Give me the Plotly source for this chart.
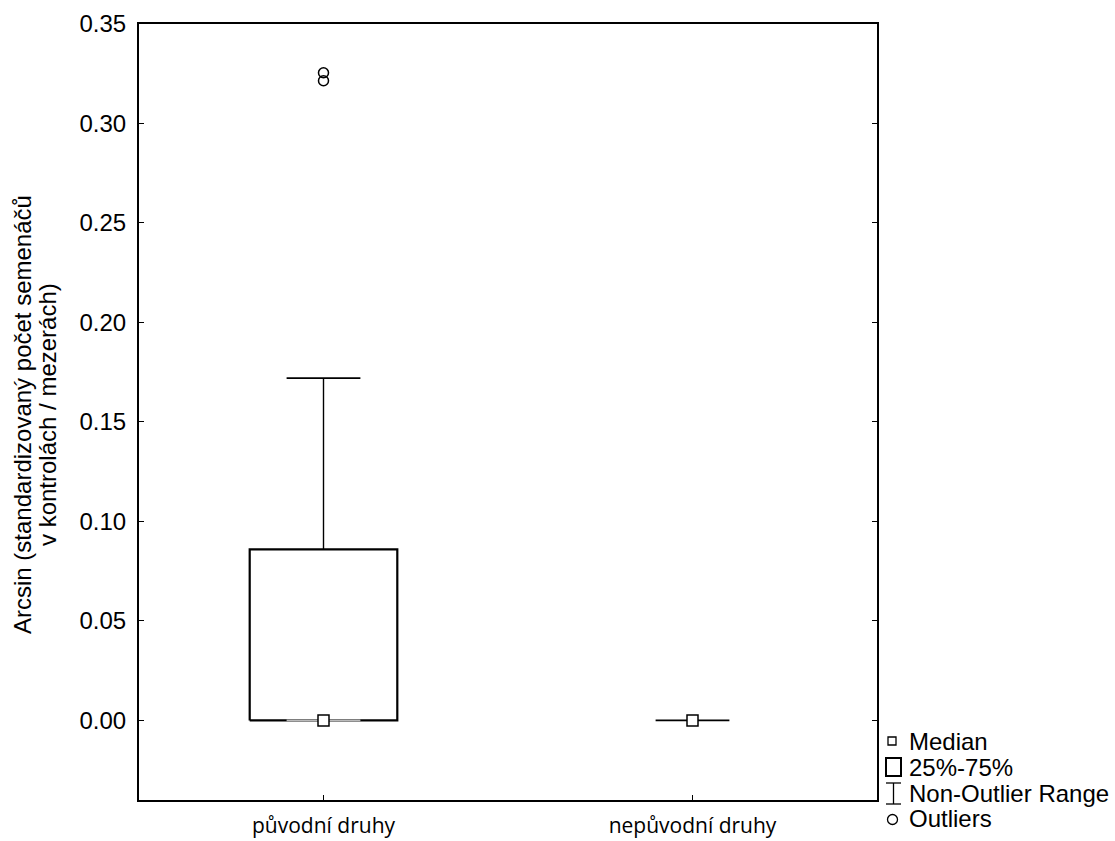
import plotly.graph_objects as go

# Summary statistics per group
categories = ["původní druhy", "nepůvodní druhy"]
medians = [0.0, 0.0]
q1 = [0.0, 0.0]
q3 = [0.086, 0.0]
whisker_low = [0.0, 0.0]
whisker_high = [0.172, 0.0]
outliers = [[0.3255, 0.3215], []]

y_ticks = [0.00, 0.05, 0.10, 0.15, 0.20, 0.25, 0.30, 0.35]

BOX_HALF = 0.2
CAP_HALF = 0.1
FONT = "Liberation Sans, Arial, sans-serif"

# canvas geometry (pixels)
W, H = 1115, 841
L, R, T, B = 139, 238, 24, 41
PW, PH = W - L - R, H - T - B

fig = go.Figure()

for i, cat in enumerate(categories):
    # box (25%-75%)
    if q3[i] > q1[i]:
        fig.add_trace(go.Scatter(
            x=[i - BOX_HALF, i + BOX_HALF, i + BOX_HALF, i - BOX_HALF, i - BOX_HALF],
            y=[q1[i], q1[i], q3[i], q3[i], q1[i]],
            mode="lines", line=dict(color="black", width=2.2),
            hoverinfo="skip", showlegend=False))
    # upper whisker
    if whisker_high[i] > q3[i]:
        fig.add_trace(go.Scatter(
            x=[i, i], y=[q3[i], whisker_high[i]],
            mode="lines", line=dict(color="black", width=1.4),
            hoverinfo="skip", showlegend=False))
    # lower whisker
    if whisker_low[i] < q1[i]:
        fig.add_trace(go.Scatter(
            x=[i, i], y=[whisker_low[i], q1[i]],
            mode="lines", line=dict(color="black", width=1.4),
            hoverinfo="skip", showlegend=False))
    # whisker caps
    caps = [whisker_high[i]] if whisker_high[i] == whisker_low[i] else [whisker_high[i], whisker_low[i]]
    for c in caps:
        col = "black" if (c != q1[i] or q3[i] == q1[i]) else "#bbbbbb"
        fig.add_trace(go.Scatter(
            x=[i - CAP_HALF, i + CAP_HALF], y=[c, c],
            mode="lines", line=dict(color=col, width=1.6),
            hoverinfo="skip", showlegend=False))
    # median
    fig.add_trace(go.Scatter(
        x=[i], y=[medians[i]], mode="markers",
        marker=dict(symbol="square", size=11, color="white",
                    line=dict(color="black", width=1.5)),
        hoverinfo="skip", showlegend=False))
    # outliers
    if outliers[i]:
        fig.add_trace(go.Scatter(
            x=[i] * len(outliers[i]), y=outliers[i], mode="markers",
            marker=dict(symbol="circle-open", size=10, color="black",
                        line=dict(color="black", width=1.5)),
            hoverinfo="skip", showlegend=False))


def px(x, y):
    """Convert canvas pixels to paper coordinates."""
    return (x - L) / PW, 1 - (y - T) / PH


shapes = []
annotations = []

# legend keys
legend_rows = [("Median", 741), ("25%-75%", 767), ("Non-Outlier Range", 793), ("Outliers", 819)]
for text, yc in legend_rows:
    tx, ty = px(907, yc)
    annotations.append(dict(text=text, x=tx, y=ty, xref="paper", yref="paper",
                            xanchor="left", yanchor="middle", showarrow=False,
                            font=dict(family=FONT, size=24, color="black")))

def rect(x0, y0, x1, y1, w):
    a = px(x0, y0); b = px(x1, y1)
    shapes.append(dict(type="rect", xref="paper", yref="paper",
                       x0=a[0], y0=a[1], x1=b[0], y1=b[1],
                       line=dict(color="black", width=w), fillcolor="white"))

def seg(x0, y0, x1, y1, w):
    a = px(x0, y0); b = px(x1, y1)
    shapes.append(dict(type="line", xref="paper", yref="paper",
                       x0=a[0], y0=a[1], x1=b[0], y1=b[1],
                       line=dict(color="black", width=w)))

rect(888, 737, 896, 745, 1.3)
rect(886, 758, 901, 776, 2)
seg(886, 783, 901, 783, 1.3)
seg(893.5, 783, 893.5, 804, 1.3)
seg(886, 804, 901, 804, 1.3)
a = px(887.5, 814.5); b = px(897.5, 824.5)
shapes.append(dict(type="circle", xref="paper", yref="paper",
                   x0=a[0], y0=a[1], x1=b[0], y1=b[1],
                   line=dict(color="black", width=1.3)))

# y-axis title (two lines)
for line_text, xc in [("Arcsin (standardizovaný počet semenáčů", 22),
                      ("v kontrolách / mezerách)", 47)]:
    tx, ty = px(xc, 415)
    annotations.append(dict(text=line_text, x=tx, y=ty, xref="paper", yref="paper",
                            xanchor="center", yanchor="middle", textangle=-90,
                            showarrow=False,
                            font=dict(family=FONT, size=24, color="black")))

fig.update_layout(
    width=W, height=H,
    margin=dict(l=L, r=R, t=T, b=B, pad=0, autoexpand=False),
    paper_bgcolor="white", plot_bgcolor="white",
    shapes=shapes, annotations=annotations,
    showlegend=False,
    xaxis=dict(range=[-0.5, 1.5], tickvals=list(range(len(categories))),
               ticktext=categories, ticks="inside", ticklen=5, tickwidth=1.3,
               tickcolor="black", showline=True, linecolor="black", linewidth=2,
               mirror=True, showgrid=False, zeroline=False, ticklabelstandoff=6,
               automargin=False,
               tickfont=dict(family="Open Sans, sans-serif", size=21, color="black")),
    yaxis=dict(range=[-0.04, 0.35], tickvals=y_ticks,
               ticktext=[f"{v:.2f}" for v in y_ticks],
               ticks="inside", ticklen=5, tickwidth=1.3, tickcolor="black",
               showline=True, linecolor="black", linewidth=2, mirror="ticks",
               showgrid=False, zeroline=False, ticklabelstandoff=6,
               automargin=False,
               tickfont=dict(family=FONT, size=24, color="black")),
)

fig.write_html("out.html")
